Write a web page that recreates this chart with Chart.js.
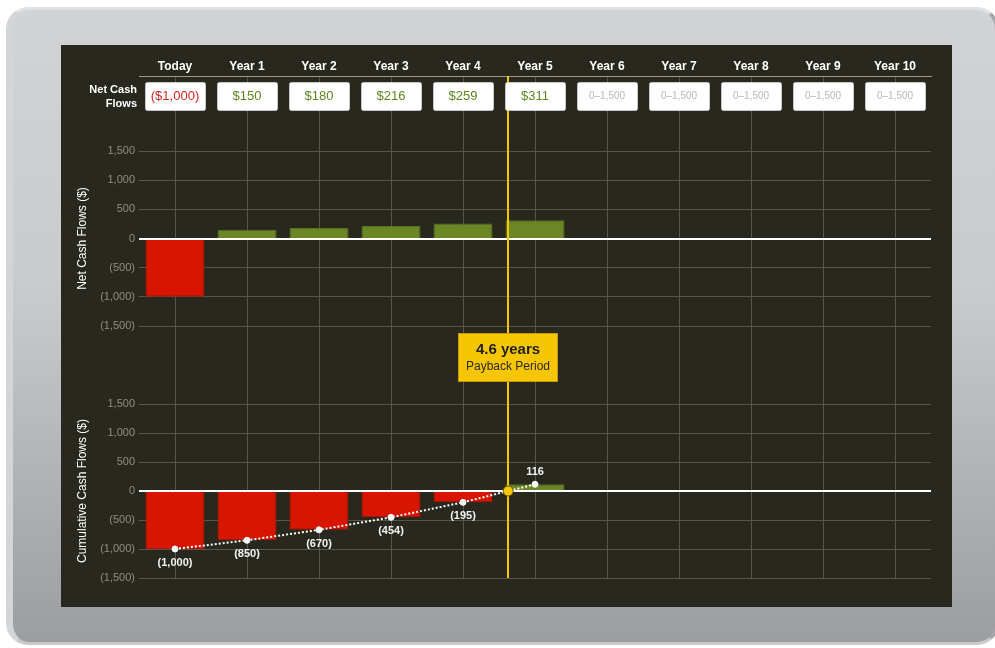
<!DOCTYPE html>
<html>
<head>
<meta charset="utf-8">
<script src="https://cdn.jsdelivr.net/npm/chart.js@4.4.0/dist/chart.umd.min.js"></script>
<style>
body { margin: 0; width: 995px; height: 648px; background: #fff; position: relative; overflow: hidden; }
#frame { position: absolute; left: 6px; top: 7px; width: 982px; height: 632px; border-radius: 22px;
  border-style: solid; border-width: 3px 4px 3px 7px;
  border-color: #e0e1e3 #a6a7ab #c9cacc #d4d5d7;
  background: linear-gradient(#d2d3d5, #c9cacc 45%, #9c9da1); }
#panel { position: absolute; left: 61px; top: 45px; width: 891px; height: 562px; background: #29281f; }
</style>
</head>
<body>
<div id="frame"></div>
<div id="panel"><canvas id="cashChart" width="891" height="562"></canvas></div>
<script>
var years = ['Today', 'Year 1', 'Year 2', 'Year 3', 'Year 4', 'Year 5', 'Year 6', 'Year 7', 'Year 8', 'Year 9', 'Year 10'];
var netFlows = [-1000, 150, 180, 216, 259, 311];
var cumulative = [-1000, -850, -670, -454, -195, 116];
var yTicks = [1500, 1000, 500, 0, -500, -1000, -1500];
var emptyText = '0–1,500';

var red = '#d81500', green = '#6b8624';
var gridColor = '#57564d';

// payback: first year the cumulative flow turns positive, interpolated
var pbIdx = cumulative.findIndex(function (v) { return v >= 0; });
var payback = (pbIdx - 1) + (-cumulative[pbIdx - 1]) / netFlows[pbIdx];

var linePoints = [];
cumulative.forEach(function (v, i) {
  if (i === pbIdx) linePoints.push({ x: payback, y: 0 });
  linePoints.push({ x: i, y: v });
});

function money(v) {
  var s = Math.abs(v).toLocaleString('en-US');
  return v < 0 ? '(' + s + ')' : s;
}

Chart.defaults.font.family = '"Liberation Sans", Arial, sans-serif';

function yAxis(weight, stackWeight, extra) {
  var base = {
    position: 'left', stack: 'cash', weight: weight, stackWeight: stackWeight,
    afterFit: function (s) { s.width = 78; }
  };
  return Object.assign(base, extra);
}

function valueAxis(weight, stackWeight, title) {
  return yAxis(weight, stackWeight, {
    min: -1500, max: 1500,
    afterBuildTicks: function (s) { s.ticks = yTicks.map(function (v) { return { value: v }; }); },
    ticks: { color: '#8f8e84', font: { size: 11 }, padding: 4, autoSkip: false, callback: function (v) { return money(v); } },
    grid: { drawTicks: false, color: function (c) { return c.tick && c.tick.value === 0 ? 'rgba(0,0,0,0)' : gridColor; } },
    border: { display: false },
    title: { display: true, text: title, color: '#ffffff', font: { size: 12 }, padding: { top: 14, bottom: 0 } }
  });
}

function emptyAxis(weight, stackWeight) {
  return yAxis(weight, stackWeight, {
    min: 0, max: 1,
    ticks: { display: false }, grid: { display: false }, border: { display: false }
  });
}

var paybackPlugin = {
  id: 'payback',
  beforeDatasetDraw: function (chart, args) {
    if (args.meta.type !== 'line') return;
    var ctx = chart.ctx, area = chart.chartArea, s = chart.scales;
    ctx.save();
    ctx.strokeStyle = '#ffffff';
    ctx.lineWidth = 2;
    ['yTop', 'yBot'].forEach(function (id) {
      var y = Math.round(s[id].getPixelForValue(0));
      ctx.beginPath(); ctx.moveTo(area.left, y); ctx.lineTo(area.right, y); ctx.stroke();
    });
    var px = Math.round(s.xLin.getPixelForValue(payback));
    ctx.strokeStyle = '#f6c800';
    ctx.beginPath(); ctx.moveTo(px, area.top); ctx.lineTo(px, area.bottom); ctx.stroke();
    ctx.restore();
  },
  afterDraw: function (chart) {
    var ctx = chart.ctx, s = chart.scales;
    var fam = Chart.defaults.font.family;
    ctx.save();

    // point labels of the cumulative line
    var meta = chart.getDatasetMeta(2);
    ctx.font = 'bold 11px ' + fam;
    ctx.fillStyle = '#f2f2f2';
    ctx.textAlign = 'center';
    ctx.textBaseline = 'middle';
    meta.data.forEach(function (pt, i) {
      var d = linePoints[i];
      if (d.y === 0) return;
      ctx.fillText(money(d.y), pt.x, d.y < 0 ? pt.y + 14 : pt.y - 12);
    });

    // header boxes with net cash flows
    var top = s.x.bottom + 6;
    years.forEach(function (y, i) {
      var cx = s.x.getPixelForValue(i);
      ctx.fillStyle = '#ffffff';
      ctx.strokeStyle = '#c9c9c9';
      ctx.lineWidth = 1;
      ctx.beginPath();
      ctx.roundRect(Math.round(cx - 30) + 0.5, top + 0.5, 60, 28, 2);
      ctx.fill(); ctx.stroke();
      var v = netFlows[i];
      if (v === undefined) {
        ctx.font = '10px ' + fam; ctx.fillStyle = '#b8b8b8';
        ctx.fillText(emptyText, cx, top + 14.5);
      } else {
        ctx.font = '13px ' + fam; ctx.fillStyle = v < 0 ? '#d8231a' : '#5c881c';
        var t = '$' + Math.abs(v).toLocaleString('en-US');
        ctx.fillText(v < 0 ? '(' + t + ')' : t, cx, top + 14.5);
      }
    });
    ctx.font = 'bold 11px ' + fam;
    ctx.fillStyle = '#ffffff';
    ctx.textAlign = 'right';
    ctx.fillText('Net Cash', s.yTop.right - 2, top + 8);
    ctx.fillText('Flows', s.yTop.right - 2, top + 22);

    // payback annotation
    var px = Math.round(s.xLin.getPixelForValue(payback));
    var by = s.yTop.bottom + 7;
    ctx.fillStyle = '#f6c700';
    ctx.strokeStyle = '#c49b00';
    ctx.fillRect(px - 49.5, by, 99, 48);
    ctx.strokeRect(px - 49.5, by + 0.5, 99, 48);
    ctx.textAlign = 'center';
    ctx.fillStyle = '#1f1f1f';
    ctx.font = 'bold 15px ' + fam;
    ctx.fillText(payback.toFixed(1) + ' years', px, by + 17);
    ctx.fillStyle = '#2a2a2a';
    ctx.font = '12px ' + fam;
    ctx.fillText('Payback Period', px, by + 34);
    ctx.restore();
  }
};

var ctx = document.getElementById('cashChart').getContext('2d');
var cashChart = new Chart(ctx, {
  type: 'bar',
  data: {
    labels: years,
    datasets: [{
      label: 'Net Cash Flows',
      data: netFlows,
      yAxisID: 'yTop',
      grouped: false,
      order: 1,
      backgroundColor: netFlows.map(function (v) { return v < 0 ? red : green; }),
      borderColor: netFlows.map(function (v) { return v < 0 ? '#b51200' : '#587020'; }),
      borderWidth: 1,
      categoryPercentage: 1,
      barPercentage: 0.82
    }, {
      label: 'Cumulative Cash Flows',
      data: cumulative,
      yAxisID: 'yBot',
      grouped: false,
      order: 1,
      backgroundColor: cumulative.map(function (v) { return v < 0 ? red : green; }),
      borderColor: cumulative.map(function (v) { return v < 0 ? '#b51200' : '#587020'; }),
      borderWidth: 1,
      categoryPercentage: 1,
      barPercentage: 0.82
    }, {
      type: 'line',
      label: 'Cumulative',
      data: linePoints,
      xAxisID: 'xLin',
      yAxisID: 'yBot',
      order: 0,
      borderColor: '#ffffff',
      borderWidth: 2,
      borderDash: [2, 2],
      tension: 0,
      fill: false,
      pointRadius: linePoints.map(function (p) { return p.y === 0 ? 5 : 3; }),
      pointBackgroundColor: linePoints.map(function (p) { return p.y === 0 ? '#f6c800' : '#ffffff'; }),
      pointBorderColor: linePoints.map(function (p) { return p.y === 0 ? '#6e5800' : '#ffffff'; }),
      pointBorderWidth: 1
    }]
  },
  options: {
    responsive: false,
    animation: false,
    layout: { padding: { left: 0, right: 21, top: 0, bottom: 29 } },
    plugins: { legend: { display: false }, tooltip: { enabled: false } },
    scales: {
      x: {
        type: 'category', position: 'top', offset: true,
        grid: { offset: false, color: gridColor, drawTicks: false },
        border: { color: '#9b9a90' },
        ticks: { color: '#ffffff', font: { size: 12, weight: 'bold' }, padding: 2, autoSkip: false, maxRotation: 0 },
        afterFit: function (s) { s.height = 31; }
      },
      xLin: { type: 'linear', position: 'bottom', display: false, offset: false, min: -0.5, max: 10.5 },
      yHead: emptyAxis(4, 75),
      yTop: valueAxis(3, 175, 'Net Cash Flows ($)'),
      yGap: emptyAxis(2, 78),
      yBot: valueAxis(1, 174, 'Cumulative Cash Flows ($)')
    }
  },
  plugins: [paybackPlugin]
});
</script>
</body>
</html>
